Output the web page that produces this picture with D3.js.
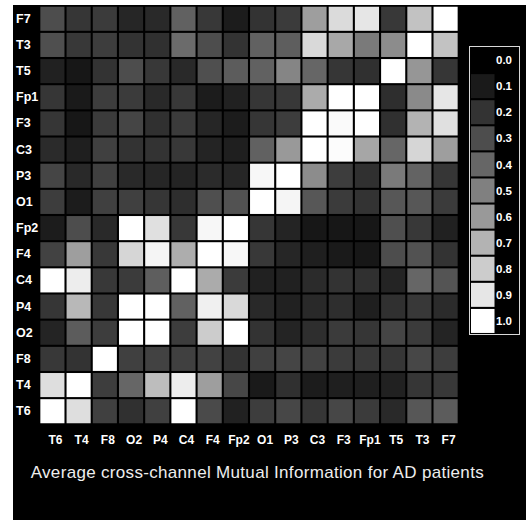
<!DOCTYPE html>
<html>
<head>
<meta charset="utf-8">
<script src="https://cdn.jsdelivr.net/npm/d3@7"></script>
<style>
  body { margin: 0; background: #fff; }
  svg { display: block; }
</style>
</head>
<body>
<script>
let svgWidth = 526
let svgHeight = 520

// channel order, top to bottom / left to right
let rowLabels = ["F7", "T3", "T5", "Fp1", "F3", "C3", "P3", "O1", "Fp2", "F4", "C4", "P4", "O2", "F8", "T4", "T6"]
let colLabels = ["T6", "T4", "F8", "O2", "P4", "C4", "F4", "Fp2", "O1", "P3", "C3", "F3", "Fp1", "T5", "T3", "F7"]

// normalised mutual information, one array per row
let values = [
    [0.30, 0.21, 0.23, 0.15, 0.16, 0.38, 0.22, 0.11, 0.20, 0.23, 0.62, 0.86, 0.90, 0.22, 0.76, 1.00],
    [0.31, 0.22, 0.24, 0.20, 0.19, 0.42, 0.30, 0.20, 0.38, 0.37, 0.85, 0.66, 0.48, 0.55, 1.00, 0.76],
    [0.13, 0.09, 0.20, 0.30, 0.22, 0.16, 0.31, 0.36, 0.38, 0.52, 0.40, 0.21, 0.19, 1.00, 0.59, 0.21],
    [0.21, 0.10, 0.24, 0.23, 0.16, 0.22, 0.11, 0.13, 0.21, 0.22, 0.67, 1.00, 1.00, 0.18, 0.54, 0.90],
    [0.21, 0.09, 0.23, 0.27, 0.19, 0.23, 0.15, 0.11, 0.21, 0.24, 1.00, 0.98, 1.00, 0.19, 0.70, 0.88],
    [0.17, 0.12, 0.25, 0.20, 0.20, 0.22, 0.14, 0.12, 0.38, 0.60, 1.00, 0.99, 0.65, 0.40, 0.84, 0.62],
    [0.27, 0.16, 0.25, 0.16, 0.15, 0.14, 0.17, 0.15, 0.97, 1.00, 0.55, 0.24, 0.19, 0.48, 0.39, 0.21],
    [0.24, 0.11, 0.25, 0.25, 0.21, 0.18, 0.31, 0.32, 1.00, 0.96, 0.34, 0.23, 0.20, 0.34, 0.34, 0.23],
    [0.11, 0.30, 0.16, 1.00, 0.88, 0.22, 0.97, 1.00, 0.21, 0.14, 0.09, 0.09, 0.09, 0.31, 0.22, 0.13],
    [0.26, 0.62, 0.22, 0.84, 0.96, 0.68, 1.00, 0.97, 0.22, 0.15, 0.12, 0.10, 0.09, 0.30, 0.32, 0.20],
    [1.00, 0.93, 0.22, 0.23, 0.37, 1.00, 0.67, 0.23, 0.13, 0.13, 0.17, 0.20, 0.19, 0.14, 0.40, 0.33],
    [0.21, 0.72, 0.22, 1.00, 1.00, 0.38, 0.94, 0.85, 0.16, 0.13, 0.16, 0.18, 0.12, 0.19, 0.22, 0.17],
    [0.14, 0.36, 0.24, 1.00, 1.00, 0.24, 0.80, 1.00, 0.20, 0.14, 0.18, 0.23, 0.21, 0.27, 0.23, 0.14],
    [0.22, 0.20, 1.00, 0.25, 0.26, 0.25, 0.26, 0.20, 0.25, 0.27, 0.26, 0.23, 0.22, 0.21, 0.28, 0.24],
    [0.87, 1.00, 0.24, 0.40, 0.74, 0.93, 0.62, 0.28, 0.10, 0.19, 0.11, 0.12, 0.12, 0.13, 0.21, 0.22],
    [1.00, 0.87, 0.25, 0.19, 0.25, 1.00, 0.29, 0.13, 0.24, 0.28, 0.21, 0.28, 0.23, 0.16, 0.34, 0.36]
]

let legendValues = [0.0, 0.1, 0.2, 0.3, 0.4, 0.5, 0.6, 0.7, 0.8, 0.9, 1.0]
let title = "Average cross-channel Mutual Information for AD patients"

let labelFont = "'Liberation Sans', Arial, sans-serif"

let color = d3.scaleLinear()
    .domain([0, 1])
    .range(["#000000", "#ffffff"])

let xScale = d3.scaleBand()
    .domain(colLabels)
    .range([39.3, 458.7])
    .paddingInner(0.08)
    .paddingOuter(0.04)

let yScale = d3.scaleBand()
    .domain(rowLabels)
    .range([5.7, 424.3])
    .paddingInner(0.08)
    .paddingOuter(0.04)

let legendScale = d3.scaleBand()
    .domain(legendValues)
    .range([47, 334])
    .paddingInner(0.08)
    .paddingOuter(0.04)

let svg = d3.select("body")
    .append("svg")
    .attr("width", svgWidth)
    .attr("height", svgHeight)

// black panel
svg.append("rect")
    .attr("x", 13)
    .attr("y", 5)
    .attr("width", svgWidth - 13)
    .attr("height", svgHeight - 5)
    .attr("fill", "#000")

// flatten into cells
let cells = []
values.forEach(function (row, i) {
    row.forEach(function (v, j) {
        cells.push({ row: rowLabels[i], col: colLabels[j], value: v })
    })
})

svg.append("g")
    .selectAll("rect")
    .data(cells)
    .enter()
    .append("rect")
    .attr("x", function (d) { return xScale(d.col) })
    .attr("y", function (d) { return yScale(d.row) })
    .attr("width", xScale.bandwidth())
    .attr("height", yScale.bandwidth())
    .attr("fill", function (d) { return color(d.value) })

// row labels
let yAxis = d3.axisLeft(yScale).tickSize(0).tickPadding(0)
let yg = svg.append("g")
    .attr("transform", "translate(16,0)")
    .call(yAxis)
yg.select(".domain").remove()
yg.selectAll("text")
    .attr("text-anchor", "start")
    .attr("fill", "#fff")
    .style("font-family", labelFont)
    .style("font-weight", "bold")
    .style("font-size", "12.5px")

// column labels
let xAxis = d3.axisBottom(xScale).tickSize(0).tickPadding(0)
let xg = svg.append("g")
    .attr("transform", "translate(3,435)")
    .call(xAxis)
xg.select(".domain").remove()
xg.selectAll("text")
    .attr("fill", "#fff")
    .style("font-family", labelFont)
    .style("font-weight", "bold")
    .style("font-size", "12px")

// legend
let legend = svg.append("g")

legend.append("rect")
    .attr("x", 469.5)
    .attr("y", 46.5)
    .attr("width", 50)
    .attr("height", 288)
    .attr("fill", "none")
    .attr("stroke", "#d8d8d8")
    .attr("stroke-width", 1)

legend.selectAll(".swatch")
    .data(legendValues)
    .enter()
    .append("rect")
    .attr("class", "swatch")
    .attr("x", 471)
    .attr("y", function (d) { return legendScale(d) })
    .attr("width", 23.5)
    .attr("height", legendScale.bandwidth())
    .attr("fill", function (d) { return color(d) })

legend.selectAll(".lbl")
    .data(legendValues)
    .enter()
    .append("text")
    .attr("class", "lbl")
    .attr("x", 496)
    .attr("y", function (d) { return legendScale(d) + legendScale.bandwidth() / 2 })
    .attr("dy", "0.36em")
    .attr("fill", "#fff")
    .style("font-family", labelFont)
    .style("font-weight", "bold")
    .style("font-size", "11.5px")
    .text(function (d) { return d.toFixed(1) })

// title
svg.append("text")
    .attr("x", 30.7)
    .attr("y", 478.3)
    .attr("fill", "#eee")
    .attr("textLength", 453)
    .attr("lengthAdjust", "spacing")
    .style("font-family", labelFont)
    .style("font-size", "17px")
    .text(title)
</script>
</body>
</html>
